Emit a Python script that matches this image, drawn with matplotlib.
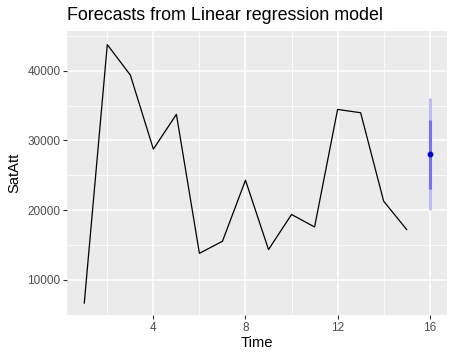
import matplotlib
matplotlib.use("Agg")
from matplotlib import pyplot as plt
import numpy as np

plt.rcParams['font.family'] = ['Liberation Sans', 'DejaVu Sans']

# observed series
time = np.arange(1, 16)
satatt = [6660, 43740, 39380, 28750, 33740, 13800, 15530, 24290,
          14340, 19370, 17580, 34450, 33970, 21280, 17210]

# one step forecast
fc_time = [16]
fc_mean = [28100]
lo80, hi80 = [23080], [32930]
lo95, hi95 = [19970], [36040]

fig = plt.figure(figsize=(4.55, 3.62), dpi=100)
ax = fig.add_axes([67/455, 1 - 315/362, 380/455, 284/362])
ax.set_facecolor('#EBEBEB')

ax.set_xlim(0.25, 16.75)
ax.set_ylim(4950, 45700)

ax.set_xticks([4, 8, 12, 16])
ax.set_xticks([2, 6, 10, 14], minor=True)
ax.set_yticks([10000, 20000, 30000, 40000])
ax.set_yticks([5000, 15000, 25000, 35000, 45000], minor=True)
ax.grid(which='major', color='white', lw=1.1)
ax.grid(which='minor', color='white', lw=0.55)
ax.set_axisbelow(True)
for s in ax.spines.values():
    s.set_visible(False)
ax.tick_params(which='major', length=2.7, width=0.8, color='#333333',
               labelcolor='#4D4D4D', labelsize=8.5, pad=2)
ax.tick_params(which='minor', length=0)

ax.plot(time, satatt, color='black', lw=0.9)
ax.vlines(fc_time, lo95, hi95, color='#BEBEF5', lw=2.2)
ax.vlines(fc_time, lo80, hi80, color='#7474F0', lw=2.2)
ax.plot(fc_time, fc_mean, 'o', color='#0000CC', ms=3.2)

ax.set_xlabel('Time', fontsize=10.6, labelpad=2)
ax.set_ylabel('SatAtt', fontsize=10.6, labelpad=4)
fig.text(67/455, 1 - 15/362, 'Forecasts from Linear regression model',
         fontsize=12.9, va='center', ha='left')

fig.savefig('out.png', dpi=100)
